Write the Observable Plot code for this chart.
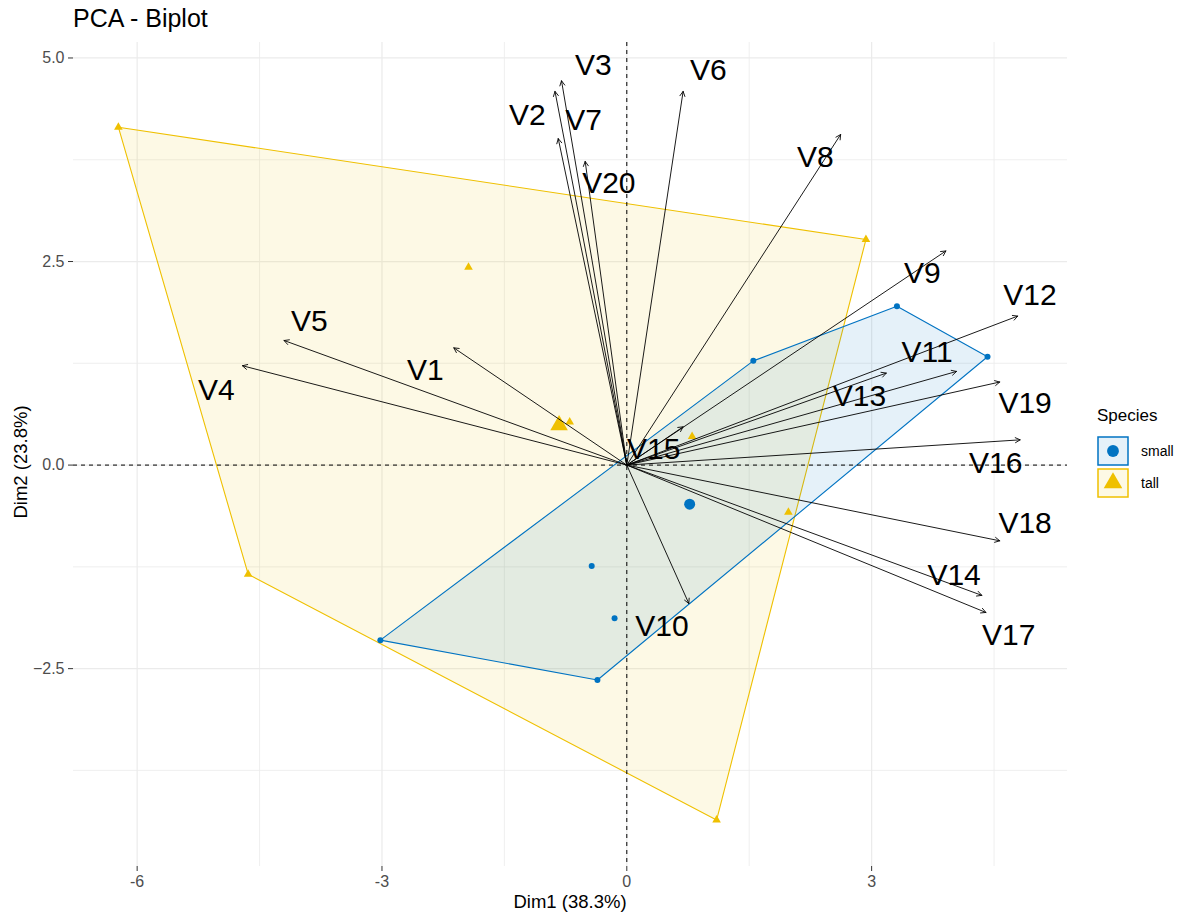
<!DOCTYPE html>
<html><head><meta charset="utf-8">
<script src="https://cdn.jsdelivr.net/npm/d3@7"></script>
<script src="https://cdn.jsdelivr.net/npm/@observablehq/plot@0.6"></script>
<style>
body{margin:0;background:#fff;font-family:Arial,"Liberation Sans",sans-serif;}
#wrap{position:relative;width:1189px;height:916px;overflow:hidden;}
#chart{position:absolute;left:0;top:0;}
#title{position:absolute;left:73px;top:4px;font-size:25px;line-height:28px;color:#000;white-space:nowrap;}
#xlab{position:absolute;left:570px;top:892px;transform:translateX(-50%);font-size:18.5px;line-height:20px;color:#000;white-space:nowrap;}
#ylab{position:absolute;left:21px;top:462px;transform:translate(-50%,-50%) rotate(-90deg);font-size:18.5px;line-height:20px;color:#000;white-space:nowrap;}
#legend{position:absolute;left:1097px;top:405px;}
#legend .ttl{font-size:17px;line-height:22px;color:#000;margin-bottom:8px;}
#legend .row{display:flex;align-items:center;height:32px;}
#legend .row span{font-size:14px;margin-left:12px;color:#000;}
svg text{font-family:Arial,"Liberation Sans",sans-serif;}
</style></head><body>
<div id="wrap"><div id="chart"></div><div id="title">PCA - Biplot</div>
<div id="xlab">Dim1 (38.3%)</div><div id="ylab">Dim2 (23.8%)</div><div id="legend"></div></div>
<script>
// ---- data ----
const varNames = ["V1","V2","V3","V4","V5","V6","V7","V8","V9","V10","V11","V12","V13","V14","V15","V16","V17","V18","V19","V20"];
const varX = [-2.12,-0.88,-0.80,-4.71,-4.20,0.69,-0.84,2.62,3.91,0.76,4.04,4.79,3.18,4.35,0.69,4.82,4.40,4.57,4.57,-0.51];
const varY = [1.44,4.59,4.72,1.22,1.53,4.59,4.01,4.06,2.63,-1.70,1.15,1.83,1.13,-1.60,0.47,0.31,-1.81,-0.93,1.02,3.73];
const labelX = [-2.47,-1.22,-0.41,-5.03,-3.89,1.00,-0.53,2.31,3.62,0.43,3.68,4.94,2.85,4.01,0.33,4.52,4.68,4.88,4.88,-0.22];
const labelY = [1.16,4.29,4.91,0.92,1.77,4.85,4.23,3.78,2.36,-1.98,1.39,2.09,0.84,-1.36,0.19,0.02,-2.09,-0.71,0.76,3.46];
const smallX = [3.31,4.42,1.55,-0.43,-0.15,-3.02,-0.36];
const smallY = [1.95,1.33,1.28,-1.24,-1.88,-2.15,-2.64];
const tallX = [-6.23,2.93,1.10,-4.64,-1.94,-0.70,0.80,1.98];
const tallY = [4.15,2.77,-4.36,-1.34,2.43,0.53,0.35,-0.58];
const groups = ["small","tall"];
const groupColors = ["#0073C2","#EFC000"];
const groupSymbols = ["circle","triangle"];
const meanX = [0.77,-0.83];
const meanY = [-0.48,0.49];
const xTicks = [-6,-3,0,3];
const yTicks = [-2.5,0,2.5,5];
const xMinor = [-4.5,-1.5,1.5,4.5];
const yMinor = [-3.75,-1.25,1.25,3.75];

// ---- build tables ----
const vars = varNames.map((n,i)=>({name:n,x0:0,y0:0,x:varX[i],y:varY[i],lx:labelX[i],ly:labelY[i]}));
const small = smallX.map((x,i)=>({x,y:smallY[i]}));
const tall = tallX.map((x,i)=>({x,y:tallY[i]}));
const hull = pts => d3.polygonHull(pts.map(p=>[p.x,p.y])).map(([x,y])=>({x,y}));
const meanSmall = [{x:meanX[0],y:meanY[0]}];
const meanTall = [{x:meanX[1],y:meanY[1]}];

const chart = Plot.plot({
  width:1189, height:916,
  marginLeft:73, marginRight:122, marginTop:42, marginBottom:50,
  style:{fontSize:"16px", background:"white", color:"#333"},
  x:{domain:[-6.78,5.40], ticks:xTicks, tickSize:5, tickPadding:4, tickFormat:d=>String(d), label:null},
  y:{domain:[-4.93,5.19], ticks:yTicks, tickSize:5, tickPadding:4, tickFormat:d3.format(".1f"), label:null},
  marks:[
    Plot.ruleX(xMinor,{stroke:"#EBEBEB",strokeWidth:0.8}),
    Plot.ruleY(yMinor,{stroke:"#EBEBEB",strokeWidth:0.8}),
    Plot.ruleX(xTicks,{stroke:"#EBEBEB",strokeWidth:1.2}),
    Plot.ruleY(yTicks,{stroke:"#EBEBEB",strokeWidth:1.2}),
    Plot.line(hull(tall),{x:"x",y:"y",curve:"linear-closed",fill:groupColors[1],fillOpacity:0.1,stroke:groupColors[1],strokeWidth:1.1}),
    Plot.line(hull(small),{x:"x",y:"y",curve:"linear-closed",fill:groupColors[0],fillOpacity:0.1,stroke:groupColors[0],strokeWidth:1.1}),
    Plot.ruleX([0],{stroke:"black",strokeWidth:1,strokeDasharray:"4,4"}),
    Plot.ruleY([0],{stroke:"black",strokeWidth:1,strokeDasharray:"4,4"}),
    Plot.dot(small,{x:"x",y:"y",r:3,fill:groupColors[0],symbol:groupSymbols[0]}),
    Plot.dot(tall,{x:"x",y:"y",r:3.2,fill:groupColors[1],symbol:groupSymbols[1]}),
    Plot.dot(meanSmall,{x:"x",y:"y",r:5.5,fill:groupColors[0],symbol:groupSymbols[0]}),
    Plot.dot(meanTall,{x:"x",y:"y",r:6.5,fill:groupColors[1],symbol:groupSymbols[1]}),
    Plot.arrow(vars,{x1:"x0",y1:"y0",x2:"x",y2:"y",stroke:"black",strokeWidth:0.9,headLength:9,headAngle:55}),
    Plot.text(vars,{x:"lx",y:"ly",text:"name",fontSize:30,fill:"black"})
  ]
});
document.getElementById("chart").appendChild(chart);
// grey, larger tick labels
const tl = d3.select(chart).selectAll('g[aria-label="x-axis tick label"], g[aria-label="y-axis tick label"], g[aria-label="x-axis"] .tick, g[aria-label="y-axis"] .tick');
tl.attr("font-size","16px");
tl.selectAll("text").attr("fill","#4D4D4D").attr("font-size","16px");

// legend
const lg = d3.select("#legend");
lg.append("div").attr("class","ttl").text("Species");
groups.forEach((g,i)=>{
  const row = lg.append("div").attr("class","row");
  const s = row.append("svg").attr("width",32).attr("height",30);
  s.append("rect").attr("x",1).attr("y",1).attr("width",30).attr("height",28)
    .attr("fill",groupColors[i]).attr("fill-opacity",0.1).attr("stroke",groupColors[i]).attr("stroke-width",1.5);
  s.append("path").attr("transform","translate(16,15)")
    .attr("d", d3.symbol(i===0?d3.symbolCircle:d3.symbolTriangle, i===0?110:150)()).attr("fill",groupColors[i]);
  row.append("span").text(g);
});
</script>
</body></html>
